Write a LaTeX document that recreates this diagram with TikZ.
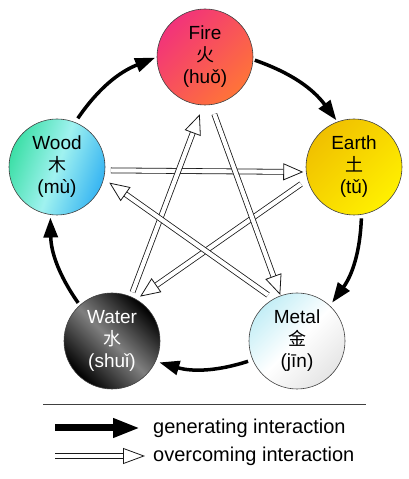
\documentclass[tikz,border=0pt]{standalone}
\usepackage{fontspec}
\setmainfont{Liberation Sans}
\newfontfamily\cjk{Noto Sans CJK SC}
\usetikzlibrary{arrows.meta}

\definecolor{firepink}{HTML}{F2337A}
\definecolor{fireorange}{HTML}{FF7438}
\definecolor{woodgreen}{HTML}{3CDFA6}
\definecolor{woodcyan}{HTML}{A0F2F0}
\definecolor{woodblue}{HTML}{36B4F2}
\definecolor{earthgold}{HTML}{F0C000}
\definecolor{earthyellow}{HTML}{FFF000}
\definecolor{metalcyan}{HTML}{C4EEF6}

\begin{document}
\begin{tikzpicture}[x=1pt, y=1pt,
    element/.style={circle, draw=black!75, line width=0.6pt, minimum size=96pt,
      inner sep=0pt, outer sep=0pt, align=center, font=\fontsize{19}{22}\selectfont},
    generating/.style={line width=3.5pt, -{Triangle[length=20pt, width=14pt]}},
    overcoming/.style={draw=black!90, line width=0.8pt, double=white, double distance=4.2pt,
      -{Triangle[fill=white, line width=0.8pt, length=20pt, width=17pt]}},
    legendtext/.style={anchor=west, inner sep=0pt, font=\fontsize{20}{24}\selectfont}]
  \useasboundingbox (0,0) rectangle (408,479);

  % the five elements
  \node[element, left color=firepink, right color=fireorange, shading angle=45]
    (fire) at (205,422) {Fire\\{\cjk\fontsize{18}{22}\selectfont 火}\\(huǒ)};
  \node[element, left color=woodgreen, right color=woodblue, middle color=woodcyan, shading angle=70]
    (wood) at (57,312) {Wood\\{\cjk\fontsize{18}{22}\selectfont 木}\\(mù)};
  \node[element, left color=earthgold, right color=earthyellow, shading angle=45]
    (earth) at (354,312) {Earth\\{\cjk\fontsize{18}{22}\selectfont 土}\\(tǔ)};
  \node[element, left color=black, right color=black, middle color=black!50, shading angle=135, text=white]
    (water) at (112,138) {Water\\{\cjk\fontsize{18}{22}\selectfont 水}\\(shuǐ)};
  \node[element, left color=metalcyan, right color=black!10, middle color=white, shading angle=45]
    (metal) at (297,138) {Metal\\{\cjk\fontsize{18}{22}\selectfont 金}\\(jīn)};

  % generating cycle
  \draw[generating, shorten <=5pt, shorten >=2pt] (wood.68) to[bend left=17] (fire.180);
  \draw[generating, shorten <=2pt, shorten >=2pt] (fire.-3) to[bend left=17] (earth.110);
  \draw[generating, shorten <=4pt, shorten >=4pt] (earth.-81) to[bend left=17] (metal.47);
  \draw[generating, shorten <=5pt, shorten >=4pt] (metal.203) to[bend left=17] (water.-25);
  \draw[generating, shorten <=3pt, shorten >=3pt] (water.132) to[bend left=17] (wood.262);

  % overcoming cycle
  \draw[overcoming, shorten <=6pt, shorten >=3pt] (wood.-4) -- (earth.186);
  \draw[overcoming, shorten <=8pt, shorten >=5pt] (earth.195) -- (water.60);
  \draw[overcoming, shorten <=5pt, shorten >=10pt] (water.67) -- (fire.-92);
  \draw[overcoming, shorten <=10pt, shorten >=1pt] (fire.-83) -- (metal.110);
  \draw[overcoming, shorten <=7pt, shorten >=7pt] (metal.119) -- (wood.-14);

  % legend
  \draw[black!75, line width=0.8pt] (43,75) -- (366,75);
  \node[legendtext] (gentext) at (153,51) {generating interaction};
  \node[legendtext] (overtext) at (153,23) {overcoming interaction};
  \coordinate (genstart) at (55,51);
  \coordinate (overstart) at (55,23);
  \draw[line width=7pt, -{Triangle[length=27pt, width=18pt]}, shorten >=13pt] (genstart) -- (gentext.west);
  \draw[overcoming, double distance=4.8pt, -{Triangle[fill=white, line width=0.8pt, length=22pt, width=16pt]},
    shorten >=8pt] (overstart) -- (overtext.west);
\end{tikzpicture}
\end{document}
